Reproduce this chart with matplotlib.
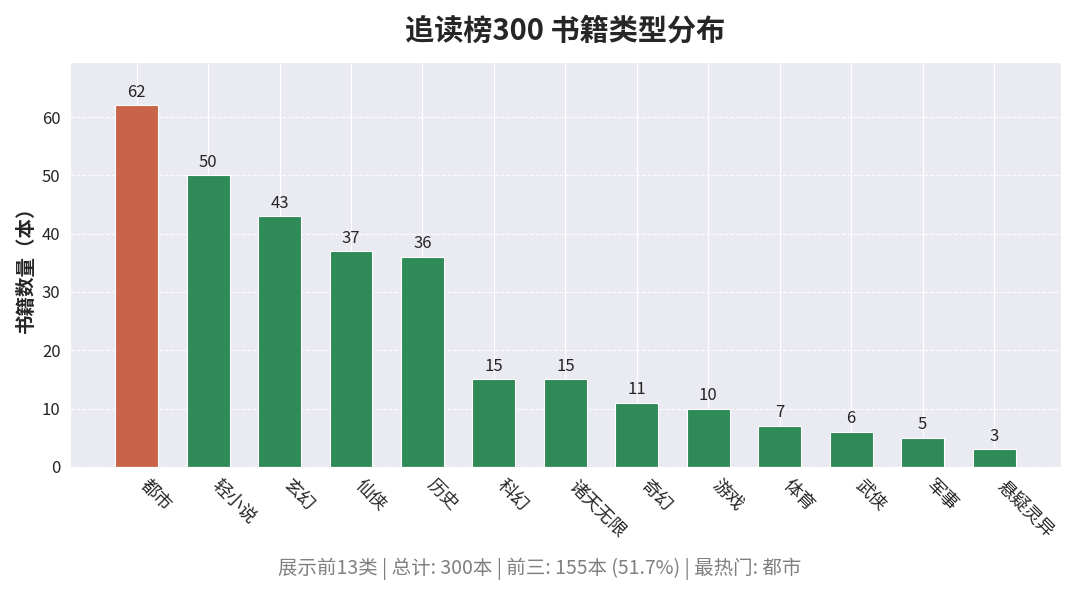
import matplotlib
matplotlib.use("Agg")
import matplotlib.pyplot as plt
import seaborn as sns

sns.set_style("darkgrid")
plt.rcParams['font.family'] = ['Noto Sans CJK SC', 'DejaVu Sans']
plt.rcParams['axes.unicode_minus'] = False

genres = ["都市", "轻小说", "玄幻", "仙侠", "历史", "科幻", "诸天无限",
          "奇幻", "游戏", "体育", "武侠", "军事", "悬疑灵异"]
counts = [62, 50, 43, 37, 36, 15, 15, 11, 10, 7, 6, 5, 3]
total = 300

top_color = "#c8644a"
other_color = "#2e8b57"
colors = [top_color] + [other_color] * (len(genres) - 1)

fig, ax = plt.subplots(figsize=(10.8, 5.91), dpi=100)
x = range(len(genres))
bars = ax.bar(x, counts, width=0.6, color=colors, edgecolor="white", linewidth=0.8)

for b, v in zip(bars, counts):
    ax.text(b.get_x() + b.get_width() / 2, v + 0.8, str(v),
            ha="center", va="bottom", fontsize=12, color="#262626")

ax.set_ylim(0, max(counts) * 1.12)
ax.set_xticks(list(x))
ax.set_xticklabels(genres, rotation=-45, ha="left", fontsize=13)
ax.tick_params(axis="y", labelsize=12)
ax.set_ylabel("书籍数量（本）", fontsize=14, fontweight="bold")
ax.grid(axis="y", linestyle="--", alpha=0.9)
ax.set_title("追读榜300 书籍类型分布", fontsize=21, fontweight="bold", pad=16)

top3 = sum(counts[:3])
fig.text(0.5, 0.028,
         f"展示前{len(genres)}类 | 总计: {total}本 | 前三: {top3}本 ({top3 / total * 100:.1f}%) | 最热门: {genres[0]}",
         ha="center", fontsize=14, color="#808080")

plt.subplots_adjust(left=0.065, right=0.982, top=0.895, bottom=0.21)
fig.savefig("out.png", dpi=100)
